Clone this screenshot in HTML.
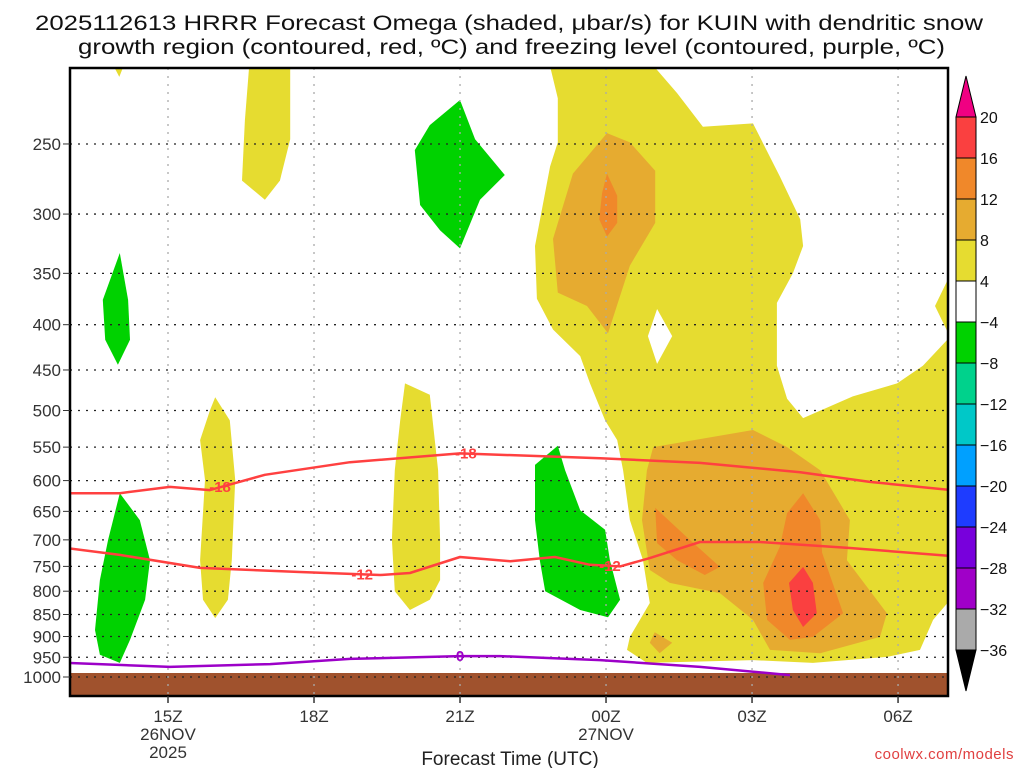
<!DOCTYPE html>
<html><head><meta charset="utf-8"><style>
html,body{margin:0;padding:0;background:#fff;}
svg{display:block;font-family:"Liberation Sans",sans-serif;}
</style></head><body>
<svg id="chart" width="1024" height="768" viewBox="0 0 1024 768" xmlns="http://www.w3.org/2000/svg">
<defs><clipPath id="plotclip"><rect x="70" y="68" width="878" height="628"/></clipPath></defs>
<text x="35" y="30" font-size="21" fill="#111" textLength="948" lengthAdjust="spacingAndGlyphs">2025112613 HRRR Forecast Omega (shaded, μbar/s) for KUIN with dendritic snow</text>
<text x="78" y="54" font-size="21" fill="#111" textLength="867" lengthAdjust="spacingAndGlyphs">growth region (contoured, red, ºC) and freezing level (contoured, purple, ºC)</text>
<g id="plot" clip-path="url(#plotclip)"></g>
<g id="axes"></g>
<g id="cbar"></g>
<text x="510" y="765" font-size="19" fill="#222" text-anchor="middle">Forecast Time (UTC)</text>
<text x="1014" y="759" font-size="15" fill="#e04040" text-anchor="end" letter-spacing="0.5">coolwx.com/models</text>
</svg>
<script>
// hours relative to 15Z 26NOV, pressures in hPa
const pressureTicks=[250,300,350,400,450,500,550,600,650,700,750,800,850,900,950,1000];
const timeTickHours=[0,3,6,9,12,15];
const timeTickLabels=["15Z","18Z","21Z","00Z","03Z","06Z"];
const dateLabels=[[0,"26NOV"],[9,"27NOV"]];
const cbarLevels=[20,16,12,8,4,-4,-8,-12,-16,-20,-24,-28,-32,-36];
const cbarColors=["#fa4040","#f0882a","#e6ab30","#e6dc30","#ffffff","#00d200","#00d28c","#00c8c8","#00a0ff","#1e3cff","#7800dc","#a000c8","#aaaaaa"];
const yellowMain=[[7.81,200],[9.84,200],[10.46,219],[10.99,239],[12.02,237],[12.57,272],[12.99,304],[13.05,326],[12.84,350],[12.51,378],[12.51,445],[12.72,485],[13.05,510],[14.07,482],[14.98,466],[15.51,445],[16.03,415],[16.3,415],[16.3,823],[16.03,823],[15.72,862],[15.45,932],[14.77,949],[13.25,964],[12.02,957],[9.84,964],[9.43,932],[9.49,901],[9.9,825],[9.76,738],[9.49,665],[9.35,584],[9.23,540],[8.98,513],[8.67,466],[8.47,434],[7.91,405],[7.58,374],[7.54,326],[7.85,265],[8.01,249],[8.01,222]];
const yellowSliver=[[16.3,355],[16.03,355],[15.76,381],[16.03,409],[16.3,409]];
const whiteHole=[[10.05,384],[10.36,412],[10.05,443],[9.86,412]];
const yellowTop=[[1.68,200],[2.51,200],[2.51,247],[2.3,275],[1.99,289],[1.52,275],[1.58,235]];
const yellowTiny=[[-1.2,200],[-0.85,200],[-1.0,210]];
const yellowCol1=[[0.97,483],[1.27,513],[1.38,599],[1.31,738],[1.23,818],[0.97,858],[0.72,818],[0.66,738],[0.76,599],[0.66,540],[0.86,500]];
const yellowCol2=[[4.87,466],[5.38,480],[5.55,584],[5.59,700],[5.59,777],[5.38,818],[4.97,840],[4.66,800],[4.6,700],[4.66,584],[4.77,513]];
const goldUpper=[[9.02,243],[9.49,249],[10.01,268],[10.01,307],[9.49,343],[9.04,409],[8.61,381],[8.01,368],[7.91,320],[8.32,270]];
const orangeUpper=[[9.02,270],[9.23,286],[9.23,307],[9.02,318],[8.86,304],[8.92,284]];
const goldLower=[[9.97,550],[12.02,526],[12.72,550],[13.4,584],[14.01,665],[13.95,738],[14.77,847],[14.63,901],[13.4,940],[12.37,932],[12.02,862],[11.34,804],[10.31,783],[9.9,757],[9.74,665],[9.84,584]];
const goldBlob=[[10.0,890],[10.36,915],[10.1,940],[9.9,915]];
const orangeLeft=[[10.01,644],[10.66,695],[11.34,751],[11.03,767],[10.46,738],[10.05,706]];
const orangeRight=[[13.05,620],[13.4,665],[13.44,724],[13.87,847],[13.25,901],[12.78,908],[12.31,862],[12.23,783],[12.57,713],[12.72,653]];
const redCore=[[13.05,751],[13.25,783],[13.33,847],[13.05,878],[12.84,840],[12.76,783]];
const green1=[[-0.99,332],[-0.82,375],[-0.78,416],[-1.03,444],[-1.29,416],[-1.34,375]];
const green2=[[-0.99,620],[-0.58,665],[-0.37,738],[-0.47,818],[-0.78,908],[-0.99,964],[-1.4,944],[-1.5,885],[-1.4,777],[-1.23,700]];
const green3=[[6.0,223],[6.31,247],[6.92,271],[6.41,289],[6.0,328],[5.59,313],[5.18,293],[5.07,254],[5.38,238]];
const green4=[[8.01,548],[8.16,584],[8.47,648],[8.98,682],[9.08,738],[9.29,818],[9.04,856],[8.47,840],[7.75,800],[7.64,738],[7.54,665],[7.54,576]];
const line18=[[-2.1,620],[-0.99,620],[0.04,610],[0.86,615],[1.99,591],[3.74,572],[6.0,559],[8.88,566],[10.93,573],[12.99,587],[14.42,602],[16.1,615]];
const line12=[[-2.1,715],[-0.99,728],[0.66,753],[2.71,761],[4.36,767],[4.97,763],[6.0,732],[7.03,740],[7.95,732],[8.67,747],[9.29,750],[9.9,734],[10.93,704],[12.16,704],[14.01,715],[16.1,730]];
const line0=[[-2.1,964],[0.04,974],[2.1,967],[3.74,954],[6.0,947],[6.82,947],[8.88,957],[10.93,974],[12.78,995]];
const labels18=[1.07,6.12];
const labels12=[3.99,9.08];
const labels0=[6.0];

const NS="http://www.w3.org/2000/svg";
const X0=168,PXH=48.67,Y1000=677,PXLN=384.5;
function xs(h){return X0+h*PXH;}
function ys(p){return Y1000-PXLN*Math.log(1000/p);}
function mk(tag,attrs,parent){const e=document.createElementNS(NS,tag);for(const k in attrs)e.setAttribute(k,attrs[k]);parent.appendChild(e);return e;}
const plot=document.getElementById('plot'),axes=document.getElementById('axes'),cbar=document.getElementById('cbar');
function ptsStr(arr){return arr.map(d=>xs(d[0]).toFixed(1)+','+ys(d[1]).toFixed(1)).join(' ');}
function poly(arr,fill,name){const e=mk('polygon',{points:ptsStr(arr),fill:fill},plot);

}
poly(yellowMain,cbarColors[3],'shaded-yellow-main');
poly(yellowSliver,cbarColors[3],'shaded-yellow-sliver');
poly(whiteHole,'#ffffff','shaded-white-hole');
poly(yellowTop,cbarColors[3],'shaded-yellow-top');
poly(yellowTiny,cbarColors[3],'shaded-yellow-tiny');
poly(yellowCol1,cbarColors[3],'shaded-yellow-column-1');
poly(yellowCol2,cbarColors[3],'shaded-yellow-column-2');
poly(goldUpper,cbarColors[2],'shaded-gold-upper');
poly(orangeUpper,cbarColors[1],'shaded-orange-upper');
poly(goldLower,cbarColors[2],'shaded-gold-lower');
poly(goldBlob,cbarColors[2],'shaded-gold-blob');
poly(orangeLeft,cbarColors[1],'shaded-orange-left');
poly(orangeRight,cbarColors[1],'shaded-orange-right');
poly(redCore,cbarColors[0],'shaded-red-core');
poly(green1,cbarColors[5],'shaded-green-1');
poly(green2,cbarColors[5],'shaded-green-2');
poly(green3,cbarColors[5],'shaded-green-3');
poly(green4,cbarColors[5],'shaded-green-4');
const g=mk('rect',{x:70,y:673,width:878,height:23,fill:'#a0522d'},plot);


pressureTicks.forEach(p=>{const l=mk('line',{x1:70,x2:948,y1:ys(p),y2:ys(p),stroke:'#222','stroke-width':1.3,'stroke-dasharray':'2 6'},plot);

});
timeTickHours.forEach(h=>{const l=mk('line',{x1:xs(h),x2:xs(h),y1:68,y2:696,stroke:'#aaa','stroke-width':1.3,'stroke-dasharray':'2 6'},plot);

});
function cline(arr,color,name){const e=mk('polyline',{points:ptsStr(arr),fill:'none',stroke:color,'stroke-width':2.5,'stroke-linejoin':'round'},plot);


return e;}
function interpP(arr,h){for(let i=0;i<arr.length-1;i++){if(h>=arr[i][0]&&h<=arr[i+1][0]){const t=(h-arr[i][0])/(arr[i+1][0]-arr[i][0]);return Math.exp(Math.log(arr[i][1])+t*(Math.log(arr[i+1][1])-Math.log(arr[i][1])));}}return arr[0][1];}
cline(line18,'#ff4040','contour-minus-18');
cline(line12,'#ff4040','contour-minus-12');
cline(line0,'#9c00c8','freezing-level-contour');
function clab(arr,hs,txt,color,name){hs.forEach(h=>{const x=xs(h),y=ys(interpP(arr,h));
const t=mk('text',{x:x,y:y+5,'font-size':15,'font-weight':'bold',fill:color,'text-anchor':'middle'},plot);t.textContent=txt;

});}
clab(line18,labels18,'-18','#ff4040','contour-label-minus-18');
clab(line12,labels12,'-12','#ff4040','contour-label-minus-12');
clab(line0,labels0,'0','#9c00c8','contour-label-0');
const fr=mk('rect',{x:70,y:68,width:878,height:628,fill:'none',stroke:'#000','stroke-width':2.5},axes);


pressureTicks.forEach(p=>{const y=ys(p);
mk('line',{x1:63,x2:70,y1:y,y2:y,stroke:'#333','stroke-width':1},axes);
const t=mk('text',{x:61,y:y+6,'font-size':17,fill:'#333','text-anchor':'end'},axes);t.textContent=p;

});
timeTickHours.forEach((h,i)=>{const x=xs(h);
mk('line',{x1:x,x2:x,y1:696,y2:703,stroke:'#333','stroke-width':1.5},axes);
const t=mk('text',{x:x,y:722,'font-size':17,fill:'#333','text-anchor':'middle'},axes);t.textContent=timeTickLabels[i];

});
dateLabels.forEach(d=>{const t=mk('text',{x:xs(d[0]),y:740,'font-size':17,fill:'#333','text-anchor':'middle'},axes);t.textContent=d[1];

});
const yr=mk('text',{x:xs(0),y:758,'font-size':17,fill:'#333','text-anchor':'middle'},axes);yr.textContent='2025';


const CB_X=956,CB_W=20,CB_TOP=117,CB_STEP=(650-117)/13;
const tri1=mk('polygon',{points:`${CB_X},${CB_TOP} ${CB_X+CB_W},${CB_TOP} ${CB_X+CB_W/2},76`,fill:'#f00082',stroke:'#000','stroke-width':1},cbar);


cbarColors.forEach((c,i)=>{const r=mk('rect',{x:CB_X,y:CB_TOP+i*CB_STEP,width:CB_W,height:CB_STEP,fill:c,stroke:'#000','stroke-width':1},cbar);

});
const tri2=mk('polygon',{points:`${CB_X},650 ${CB_X+CB_W},650 ${CB_X+CB_W/2},691`,fill:'#000',stroke:'#000','stroke-width':1},cbar);


cbarLevels.forEach((v,i)=>{const t=mk('text',{x:980,y:CB_TOP+i*CB_STEP+6,'font-size':16,fill:'#111'},cbar);t.textContent=(v<0?'−':'')+Math.abs(v);

});
</script>
</body></html>
